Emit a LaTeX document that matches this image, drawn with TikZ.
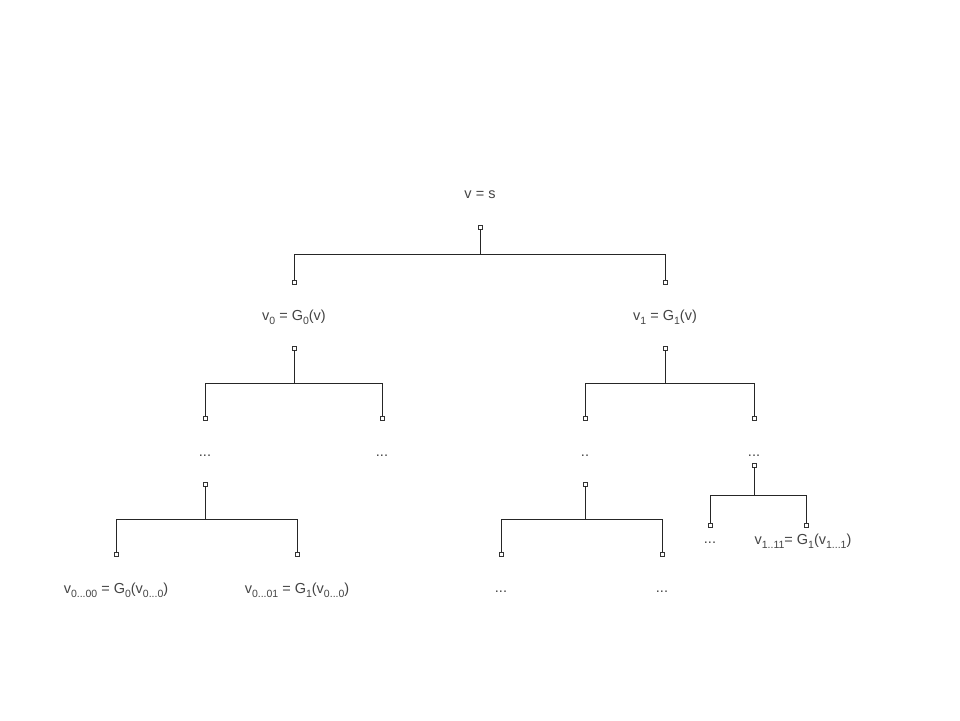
\documentclass[tikz,border=0pt]{standalone}
\usepackage{fontspec}
\setmainfont{Liberation Sans}
\usepackage{xcolor}
\usetikzlibrary{backgrounds}
\definecolor{txtgray}{HTML}{444444}
\newcommand{\lowidx}[1]{\raisebox{-0.55ex}{\fontsize{10.5}{10.5}\selectfont #1}}

\begin{document}
\begin{tikzpicture}[x=1pt, y=-1pt,
  lbl/.style={text=txtgray, font=\fontsize{14.5}{16}\selectfont, inner sep=1pt},
  pin/.style={draw=black!80, fill=white, rectangle, minimum size=4pt, inner sep=0pt, line width=0.8pt},
  link/.style={draw=black!85, line width=0.9pt}]
\useasboundingbox[fill=white] (0,0) rectangle (960,720);

\begin{scope}[every node/.style={lbl}]
  \node (s) at (480,195) {v = s};
  \node (v0) at (294,317) {v\lowidx{0} = G\lowidx{0}(v)};
  \node (v1) at (665,317) {v\lowidx{1} = G\lowidx{1}(v)};
  \node (d00) at (205,456) {...};
  \node (d01) at (382,456) {...};
  \node (d10) at (585,456) {..};
  \node (d11) at (754,456) {...};
  \node (w00) at (116,590) {v\lowidx{0...00} = G\lowidx{0}(v\lowidx{0...0})};
  \node (w01) at (297,590) {v\lowidx{0...01} = G\lowidx{1}(v\lowidx{0...0})};
  \node (w10) at (501,592) {...};
  \node (w11) at (662,592) {...};
  \node (u10) at (710,543) {...};
  \node (u11) at (803,541) {v\lowidx{1..11}= G\lowidx{1}(v\lowidx{1...1})};
\end{scope}

\begin{scope}[every node/.style={pin}]
  \node (ps) at (480,227) {};
  \node (a0) at (294,282) {};
  \node (a1) at (665,282) {};
  \node (p0) at (294,348) {};
  \node (p1) at (665,348) {};
  \node (b00) at (205,418) {};
  \node (b01) at (382,418) {};
  \node (b10) at (585,418) {};
  \node (b11) at (754,418) {};
  \node (q00) at (205,484) {};
  \node (q10) at (585,484) {};
  \node (q11) at (754,465) {};
  \node (c00) at (116,554) {};
  \node (c01) at (297,554) {};
  \node (c10) at (501,554) {};
  \node (c11) at (662,554) {};
  \node (e10) at (710,525) {};
  \node (e11) at (806,525) {};
\end{scope}

\begin{scope}[every path/.style={link}]
  \draw (ps.south) -- ++(0,25) -| (a0.north);
  \draw (ps.south) -- ++(0,25) -| (a1.north);
  \draw (p0.south) -- ++(0,33) -| (b00.north);
  \draw (p0.south) -- ++(0,33) -| (b01.north);
  \draw (p1.south) -- ++(0,33) -| (b10.north);
  \draw (p1.south) -- ++(0,33) -| (b11.north);
  \draw (q00.south) -- ++(0,33) -| (c00.north);
  \draw (q00.south) -- ++(0,33) -| (c01.north);
  \draw (q10.south) -- ++(0,33) -| (c10.north);
  \draw (q10.south) -- ++(0,33) -| (c11.north);
  \draw (q11.south) -- ++(0,28) -| (e10.north);
  \draw (q11.south) -- ++(0,28) -| (e11.north);
\end{scope}

\end{tikzpicture}
\end{document}
